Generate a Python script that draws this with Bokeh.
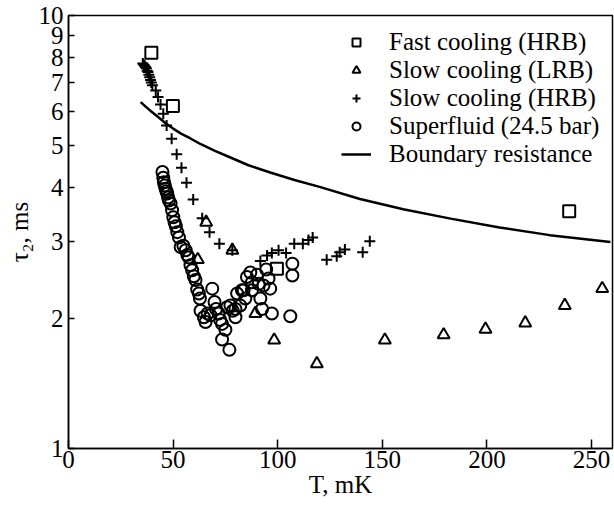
from bokeh.plotting import figure
from bokeh.models import (Range1d, FixedTicker, CustomJSTickFormatter, Legend, LegendItem)
from bokeh.embed import file_html
from bokeh.resources import INLINE

# ---- data ----
fast_T = [39.6, 49.9, 99.6, 239.3]
fast_tau = [8.2, 6.18, 2.60, 3.53]

lrb_T = [61.8, 65.8, 78.3, 89.3, 98.3, 118.7, 151.2, 179.3, 199.3, 218.3, 237.2, 255.1]
lrb_tau = [2.73, 3.33, 2.87, 2.05, 1.78, 1.57, 1.78, 1.83, 1.885, 1.95, 2.14, 2.34]

hrb_T = [35.5, 36.0, 36.4, 36.8, 37.2, 37.6, 38.0, 38.4, 38.8, 39.2, 39.6, 40.1,
         41.7, 42.8, 44.0, 45.3, 46.9, 49.3, 51.7, 54.0, 56.4, 59.6, 63.9, 67.4,
         72.1, 78.3, 91.7, 94.9, 97.2, 100.4, 104.0, 107.9, 112.0, 114.7, 116.7,
         123.4, 128.2, 129.6, 132.1, 140.6, 144.0]
hrb_tau = [7.75, 7.7, 7.65, 7.6, 7.55, 7.45, 7.4, 7.3, 7.2, 7.1, 7.0, 6.9,
           6.71, 6.48, 6.23, 5.93, 5.57, 5.19, 4.78, 4.45, 4.11, 3.76, 3.40, 3.16,
           2.97, 2.87, 2.71, 2.79, 2.83, 2.87, 2.83, 2.97, 2.97, 3.03, 3.07,
           2.73, 2.78, 2.84, 2.88, 2.84, 3.01]

sf_T = [44.9, 45.3, 45.6, 46.0, 46.4, 46.8, 47.2, 47.6, 48.0, 48.8, 49.5, 50.1,
        50.7, 51.3, 52.0, 52.8, 53.6, 54.9, 56.0, 56.8, 57.5, 58.3, 59.1, 59.9,
        60.7, 61.5, 62.3, 62.8, 63.1, 64.7, 65.5, 66.5, 67.9, 68.7, 69.8, 70.5,
        71.8, 72.5, 73.4, 73.4, 75.0, 76.9, 75.8, 77.4, 78.5, 79.8, 79.8, 80.6,
        82.1, 82.9, 83.7, 84.5, 85.3, 86.9, 87.7, 87.7, 90.1, 90.9, 91.7, 92.5,
        93.2, 94.5, 95.6, 96.4, 97.2, 106.0, 107.0, 107.0]
sf_tau = [4.35, 4.22, 4.12, 4.05, 3.98, 3.93, 3.88, 3.80, 3.74, 3.68, 3.55, 3.42,
          3.33, 3.26, 3.16, 3.07, 2.92, 2.94, 2.87, 2.80, 2.76, 2.65, 2.58, 2.50,
          2.45, 2.33, 2.28, 2.22, 2.08, 2.01, 1.96, 2.05, 2.03, 2.34, 2.18, 2.10,
          2.05, 1.98, 1.94, 1.785, 1.88, 1.69, 2.12, 2.14, 2.08, 2.10, 2.01, 2.28,
          2.14, 2.32, 2.32, 2.22, 2.49, 2.55, 2.42, 2.32, 2.52, 2.40, 2.22, 2.10,
          2.38, 2.59, 2.47, 2.34, 2.05, 2.02, 2.51, 2.67]

br_T = [34.5, 37.0, 40.0, 43.0, 46.4, 50.0, 54.0, 58.3, 63.0, 70.0, 77.4, 86.0,
        96.4, 108.0, 120.0, 139.3, 160.0, 182.0, 206.0, 230.0, 259.0]
br_tau = [6.31, 6.15, 5.98, 5.82, 5.64, 5.48, 5.33, 5.20, 5.05, 4.87, 4.70, 4.51,
          4.34, 4.17, 4.02, 3.77, 3.57, 3.40, 3.24, 3.11, 3.00]

x_ticks = [0, 50, 100, 150, 200, 250]
y_ticks = [1, 2, 3, 4, 5, 6, 7, 8, 9, 10]

FONT = "Liberation Serif"
FS = "25px"

p = figure(width=614, height=511, y_axis_type="log",
           x_range=Range1d(0, 260), y_range=Range1d(1, 10),
           output_backend="svg", toolbar_location=None,
           min_border_left=68, min_border_right=2, min_border_top=15, min_border_bottom=63)
p.background_fill_color = "white"
p.border_fill_color = "white"
p.grid.visible = False
p.outline_line_color = "black"
p.outline_line_width = 1.5

for ax in (p.xaxis[0], p.yaxis[0]):
    ax.axis_line_color = "black"
    ax.axis_line_width = 1.5
    ax.major_tick_line_color = "black"
    ax.major_tick_line_width = 1.5
    ax.major_tick_out = 0
    ax.minor_tick_line_color = None
    ax.major_label_text_font = FONT
    ax.major_label_text_font_size = FS
    ax.major_label_text_color = "black"
    ax.axis_label_text_font = FONT
    ax.axis_label_text_font_size = FS
    ax.axis_label_text_font_style = "normal"
    ax.axis_label_text_color = "black"

p.xaxis.ticker = FixedTicker(ticks=x_ticks)
p.xaxis.major_tick_in = 9
p.xaxis.major_label_standoff = 2
p.xaxis.axis_label = "T, mK"
p.xaxis.axis_label_standoff = 0

p.yaxis.ticker = FixedTicker(ticks=y_ticks)
p.yaxis.formatter = CustomJSTickFormatter(code="return tick.toFixed(0)")
p.yaxis.major_tick_in = 6
p.yaxis.major_label_standoff = 5
p.yaxis.axis_label = "τ₂, ms"
p.yaxis.axis_label_standoff = 3

r_fast = p.scatter(fast_T, fast_tau, marker="square", size=12, fill_color=None,
                   line_color="black", line_width=2)
r_lrb = p.scatter(lrb_T, lrb_tau, marker="triangle", size=12, fill_color=None,
                  line_color="black", line_width=2)
r_hrb = p.scatter(hrb_T, hrb_tau, marker="cross", size=11, line_color="black", line_width=2)
r_sf = p.scatter(sf_T, sf_tau, marker="circle", size=12, fill_color=None,
                 line_color="black", line_width=2)
r_br = p.line(br_T, br_tau, line_color="black", line_width=2.5, line_join="round")

legend = Legend(items=[
    LegendItem(label="Fast cooling (HRB)", renderers=[r_fast]),
    LegendItem(label="Slow cooling (LRB)", renderers=[r_lrb]),
    LegendItem(label="Slow cooling (HRB)", renderers=[r_hrb]),
    LegendItem(label="Superfluid (24.5 bar)", renderers=[r_sf]),
    LegendItem(label="Boundary resistance", renderers=[r_br]),
], location=(273, 280))
legend.label_text_font = FONT
legend.label_text_font_size = FS
legend.label_text_color = "black"
legend.background_fill_alpha = 0
legend.border_line_color = None
legend.glyph_width = 30
legend.glyph_height = 20
legend.label_standoff = 18
legend.label_height = 26
legend.spacing = -2
legend.padding = 5
legend.margin = 0
p.add_layout(legend, "center")

open("out.html", "w").write(file_html(p, INLINE))
